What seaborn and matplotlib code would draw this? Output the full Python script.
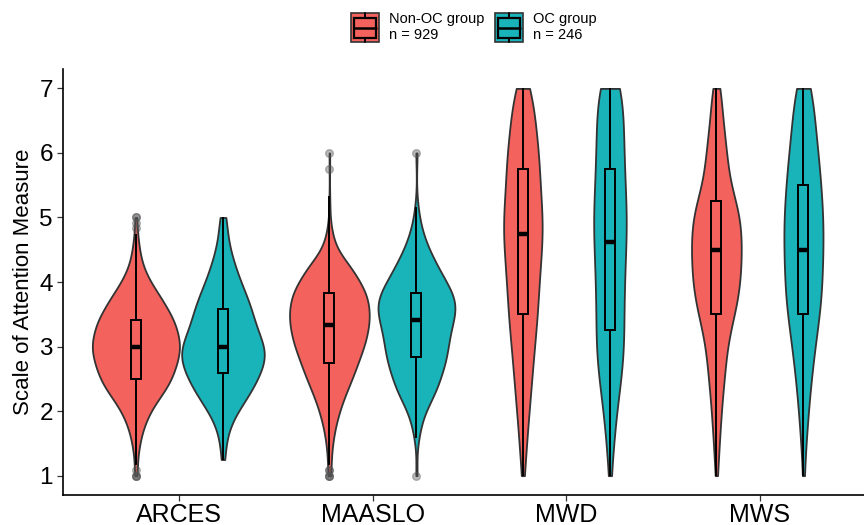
import numpy as np
import pandas as pd
import matplotlib
matplotlib.use('Agg')
import matplotlib.pyplot as plt
import seaborn as sns
from matplotlib.legend_handler import HandlerBase
from matplotlib.patches import Rectangle
from matplotlib.lines import Line2D

# categories / groups
measures = ['ARCES', 'MAASLO', 'MWD', 'MWS']
groups = ['Non-OC group', 'OC group']
group_labels = ['Non-OC group\nn = 929', 'OC group\nn = 246']
colors = ['#F3625D', '#19B3BA']

# response scale steps (mean of items)
arces_steps = np.arange(12, 61) / 12      # 1 .. 5 by 1/12
maaslo_steps = np.arange(12, 73) / 12     # 1 .. 6 by 1/12
mw_steps = np.arange(4, 29) / 4           # 1 .. 7 by 1/4

arces_nonoc = [3, 1, 1, 2, 2, 3, 4, 5, 6, 8, 10, 12, 15, 18, 22, 26, 30, 34, 36, 38,
               40, 42, 43, 44, 46, 44, 43, 42, 40, 39, 35, 32, 29, 26, 22, 18, 15, 12, 9, 7,
               6, 4, 4, 3, 2, 2, 1, 1, 2]
arces_oc = [0, 0, 0, 1, 1, 0, 1, 1, 1, 2, 2, 3, 4, 5, 6, 7, 8, 9, 9, 10,
            11, 11, 12, 12, 12, 10, 10, 9, 9, 8, 8, 8, 7, 7, 6, 5, 5, 4, 4, 3,
            3, 2, 2, 2, 1, 1, 1, 1, 2]
maaslo_nonoc = [3, 2, 1, 2, 2, 3, 3, 4, 5, 6, 7, 9, 10, 12, 14, 16, 18, 21, 23, 25,
                27, 29, 31, 33, 35, 37, 38, 39, 40, 41, 41, 40, 40, 39, 38, 34, 31, 28, 25, 21,
                17, 11, 7, 6, 4, 3, 2, 1, 1, 0, 1, 0, 1, 0, 0, 0, 0, 1, 0, 0, 1]
maaslo_oc = [1, 0, 0, 0, 0, 0, 0, 1, 1, 1, 1, 2, 2, 3, 4, 5, 6, 6, 6, 7,
             7, 8, 9, 8, 8, 9, 9, 9, 9, 10, 11, 11, 11, 11, 10, 9, 8, 7, 6, 6,
             5, 4, 3, 3, 2, 2, 1, 1, 1, 0, 1, 0, 0, 0, 0, 0, 0, 0, 0, 0, 1]
mwd_nonoc = [5, 8, 11, 15, 19, 23, 27, 31, 35, 40, 44, 47, 49, 53, 57, 60, 60, 56, 51, 52,
             47, 43, 37, 32, 27]
mwd_oc = [1, 2, 3, 4, 5, 7, 9, 11, 12, 11, 11, 11, 12, 12, 12, 14, 14, 13, 12, 11,
          12, 11, 10, 10, 16]
mws_nonoc = [4, 6, 9, 12, 15, 19, 24, 28, 33, 42, 55, 66, 72, 75, 76, 76, 72, 60, 42, 36,
             31, 26, 20, 16, 14]
mws_oc = [1, 1, 2, 3, 4, 5, 6, 8, 9, 11, 13, 15, 15, 15, 16, 16, 16, 15, 14, 13,
          12, 10, 9, 8, 9]

series = [
    ('ARCES', groups[0], arces_steps, arces_nonoc),
    ('ARCES', groups[1], arces_steps, arces_oc),
    ('MAASLO', groups[0], maaslo_steps, maaslo_nonoc),
    ('MAASLO', groups[1], maaslo_steps, maaslo_oc),
    ('MWD', groups[0], mw_steps, mwd_nonoc),
    ('MWD', groups[1], mw_steps, mwd_oc),
    ('MWS', groups[0], mw_steps, mws_nonoc),
    ('MWS', groups[1], mw_steps, mws_oc),
]
df = pd.concat([pd.DataFrame({'measure': m, 'group': g, 'score': np.repeat(s, c)})
                for m, g, s, c in series], ignore_index=True)

sns.set_theme(style='ticks')
plt.rcParams['font.family'] = ['Liberation Sans', 'DejaVu Sans']

fig = plt.figure(figsize=(8.64, 5.25), dpi=100)
ax = fig.add_axes([0.0733, 0.0571, 0.9406, 0.8114])

sns.violinplot(data=df, x='measure', y='score', hue='group', order=measures, hue_order=groups,
               palette=colors, saturation=1, width=0.9, cut=0, inner=None,
               density_norm='area', common_norm=True, bw_adjust=0.85,
               linewidth=1.3, linecolor='#333333', legend=False, ax=ax)
sns.boxplot(data=df, x='measure', y='score', hue='group', order=measures, hue_order=groups,
            palette=colors, saturation=1, width=0.9, gap=0.885, whis=1.5,
            linewidth=1.4, linecolor='black', legend=False, ax=ax,
            medianprops=dict(linewidth=3.2, color='black'),
            capprops=dict(linewidth=0),
            flierprops=dict(marker='o', markersize=5.5, markerfacecolor='#555555',
                            markeredgecolor='#555555', alpha=0.4))

ax.set_xlim(-0.6, 3.6)
ax.set_ylim(0.7, 7.3)
ax.set_yticks([1, 2, 3, 4, 5, 6, 7])
ax.set_xlabel('')
ax.set_ylabel('Scale of Attention Measure', fontsize=16, color='black')
ax.tick_params(axis='both', labelsize=18, length=4, width=0.9, color='#333333', labelcolor='black')
ax.tick_params(axis='x', pad=1.5)
ax.tick_params(axis='y', labelsize=17.5)
for side in ['top', 'right']:
    ax.spines[side].set_visible(False)
for side in ['left', 'bottom']:
    ax.spines[side].set_linewidth(1.2)
    ax.spines[side].set_color('black')


class BoxKey(HandlerBase):
    def create_artists(self, legend, orig_handle, xdescent, ydescent, width, height, fontsize, trans):
        x0, y0 = -xdescent, -ydescent
        bg = Rectangle((x0, y0), width, height, facecolor=orig_handle.get_facecolor(),
                       edgecolor='#333333', lw=1.2, transform=trans)
        box = Rectangle((x0 + 0.1 * width, y0 + 0.15 * height), 0.8 * width, 0.7 * height,
                        facecolor='none', edgecolor='black', lw=1.6, transform=trans)
        med = Line2D([x0 + 0.1 * width, x0 + 0.9 * width], [y0 + 0.5 * height] * 2,
                     color='black', lw=1.8, transform=trans)
        w1 = Line2D([x0 + 0.5 * width] * 2, [y0, y0 + 0.15 * height], color='black', lw=1.4, transform=trans)
        w2 = Line2D([x0 + 0.5 * width] * 2, [y0 + 0.85 * height, y0 + height], color='black', lw=1.4, transform=trans)
        return [bg, box, med, w1, w2]


handles = [Rectangle((0, 0), 1, 1, facecolor=c) for c in colors]
fig.legend(handles, group_labels, handler_map={Rectangle: BoxKey()},
           loc='center', bbox_to_anchor=(474 / 864, 1 - 27 / 525), ncol=2, frameon=False,
           fontsize=10.5, labelcolor='black', handlelength=1.9, handleheight=2.72,
           handletextpad=0.7, columnspacing=0.7, borderpad=0)

fig.savefig('out.png', dpi=100)
